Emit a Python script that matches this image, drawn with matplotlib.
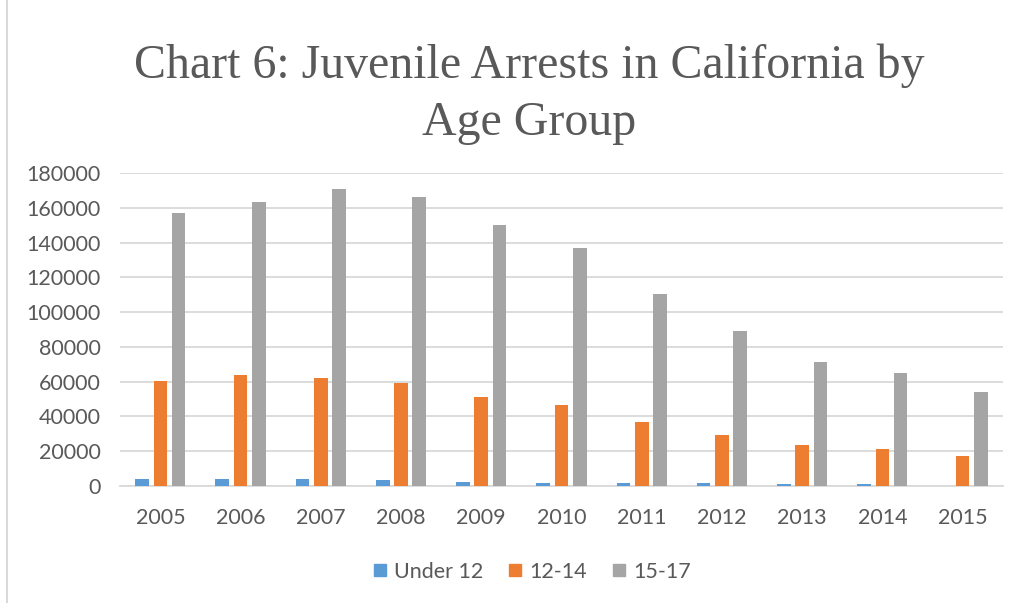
import numpy as np
import matplotlib
matplotlib.use("Agg")
import matplotlib.pyplot as plt
from matplotlib.lines import Line2D

# data
years = ["2005", "2006", "2007", "2008", "2009", "2010",
         "2011", "2012", "2013", "2014", "2015"]
under_12 = [3900, 3900, 3900, 3200, 2400, 1800, 1800, 1800, 1100, 1100, 0]
age_12_14 = [60500, 64000, 62000, 59000, 51000, 46500,
             36800, 29300, 23400, 21200, 17500]
age_15_17 = [157000, 163500, 171000, 166500, 150000, 137000,
             110500, 89000, 71500, 65000, 54000]
yticks = np.arange(0, 180001, 20000)

series = [("Under 12", under_12, "#5b9bd5"),
          ("12-14", age_12_14, "#ed7d31"),
          ("15-17", age_15_17, "#a5a5a5")]

txt = "#595959"
plt.rcParams['font.family'] = ['Lato', 'DejaVu Sans']

fig = plt.figure(figsize=(10.19, 6.03), dpi=100)
ax = fig.add_axes([0.118, 0.194, 0.866, 0.519])

x = np.arange(len(years))
w = 0.17
step = 0.228
for i, (name, vals, col) in enumerate(series):
    ax.bar(x + (i - 1) * step, vals, w, color=col, label=name, zorder=3)

ax.set_xlim(-0.5, len(years) - 0.5)
ax.set_ylim(0, 180000)
ax.set_yticks(yticks)
ax.set_yticklabels([str(v) for v in yticks])
ax.set_xticks(x)
ax.set_xticklabels(years)
ax.grid(axis="y", color="#d9d9d9", linewidth=1.3, zorder=0)
for s in ["top", "right", "left"]:
    ax.spines[s].set_visible(False)
ax.spines["bottom"].set_color("#d9d9d9")
ax.spines["bottom"].set_linewidth(1.3)
ax.tick_params(axis="both", length=0, labelsize=15.5, colors=txt)
ax.tick_params(axis="y", pad=14)
ax.tick_params(axis="x", pad=16)

fig.text(0.519, 0.844, "Chart 6: Juvenile Arrests in California by\nAge Group",
         ha="center", va="center", fontsize=34.5, color=txt,
         family=["Liberation Serif", "DejaVu Serif"], linespacing=1.38)

handles = [Line2D([], [], marker="s", linestyle="", markersize=9,
                  color=col) for _, _, col in series]
fig.legend(handles, [n for n, _, _ in series], loc="center",
           bbox_to_anchor=(0.522, 0.052), ncol=3, frameon=False,
           fontsize=15.5, labelcolor=txt, handlelength=0.6,
           handletextpad=0.35, columnspacing=1.2)

# outer chart border on the left
fig.add_artist(Line2D([0.007, 0.007], [0.0, 1.0], color="#d9d9d9",
                      linewidth=1.5, transform=fig.transFigure))

fig.savefig("out.png", dpi=100)
